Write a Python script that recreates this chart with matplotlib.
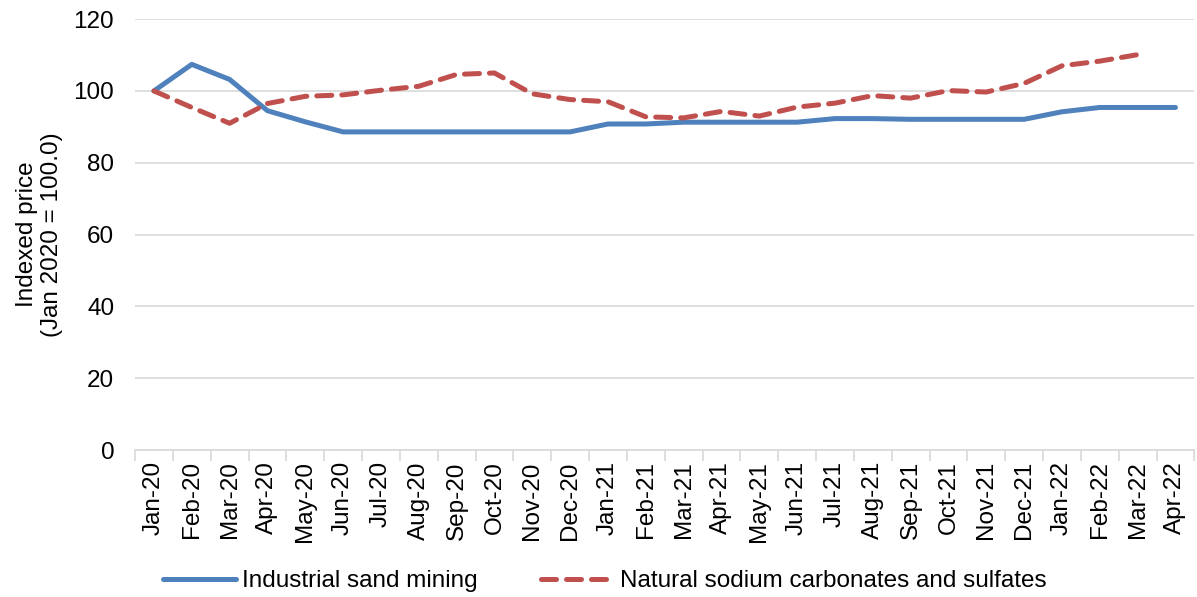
import matplotlib
matplotlib.use("Agg")
import matplotlib.pyplot as plt
import numpy as np

plt.rcParams['font.family'] = ['Liberation Sans', 'DejaVu Sans']

months = ['Jan-20', 'Feb-20', 'Mar-20', 'Apr-20', 'May-20', 'Jun-20', 'Jul-20',
          'Aug-20', 'Sep-20', 'Oct-20', 'Nov-20', 'Dec-20', 'Jan-21', 'Feb-21',
          'Mar-21', 'Apr-21', 'May-21', 'Jun-21', 'Jul-21', 'Aug-21', 'Sep-21',
          'Oct-21', 'Nov-21', 'Dec-21', 'Jan-22', 'Feb-22', 'Mar-22', 'Apr-22']

sand = [100.0, 107.4, 103.2, 94.5, 91.4, 88.6, 88.6, 88.6, 88.6, 88.6, 88.6, 88.6,
        90.8, 90.8, 91.3, 91.3, 91.3, 91.3, 92.3, 92.3, 92.1, 92.1, 92.1, 92.1,
        94.2, 95.4, 95.4, 95.4]

sodium = [100.0, 95.4, 91.0, 96.5, 98.5, 98.9, 100.2, 101.3, 104.6, 105.0, 99.2, 97.6,
          97.0, 92.8, 92.5, 94.3, 93.0, 95.5, 96.6, 98.7, 98.0, 100.1, 99.7, 102.1,
          107.0, 108.3, 110.1, np.nan]

x = np.arange(len(months))
fs = 17.5

fig = plt.figure(figsize=(11.97, 5.97), dpi=100)
ax = fig.add_axes([0.1128, 0.246, 0.885, 0.722])

ax.plot(x, sand, color='#4f81bd', lw=3.6, solid_capstyle='round',
        label='Industrial sand mining', zorder=3)
ax.plot(x, sodium, color='#c0504d', lw=3.6, dashes=(3.0, 2.0),
        dash_capstyle='round', label='Natural sodium carbonates and sulfates', zorder=3)

ax.set_xlim(-0.5, len(months) - 0.5)
ax.set_ylim(0, 120)
ax.set_yticks(range(0, 121, 20))
ax.tick_params(axis='y', length=0, labelsize=fs, pad=15)
ax.yaxis.grid(True, color='#d9d9d9', lw=1.2)
ax.set_axisbelow(True)

ax.set_xticks(x)
ax.set_xticklabels(months, rotation=90, fontsize=fs)
ax.set_xticks(np.arange(-0.5, len(months), 1), minor=True)
ax.tick_params(axis='x', which='major', length=0, pad=8)
ax.tick_params(axis='x', which='minor', length=8, color='#d9d9d9', width=1.2)

for s in ['top', 'right', 'left']:
    ax.spines[s].set_visible(False)
ax.spines['bottom'].set_color('#d9d9d9')
ax.spines['bottom'].set_linewidth(1.2)

ax.set_ylabel('Indexed price\n(Jan 2020 = 100.0)', fontsize=fs, linespacing=1.15)
ax.yaxis.set_label_coords(-0.068, 0.5)

fig.legend(loc='center', ncol=2, frameon=False, fontsize=fs,
           bbox_to_anchor=(0.505, 0.026), handlelength=3.0, handletextpad=0.25,
           columnspacing=2.6)

fig.savefig('out.png', dpi=100)
